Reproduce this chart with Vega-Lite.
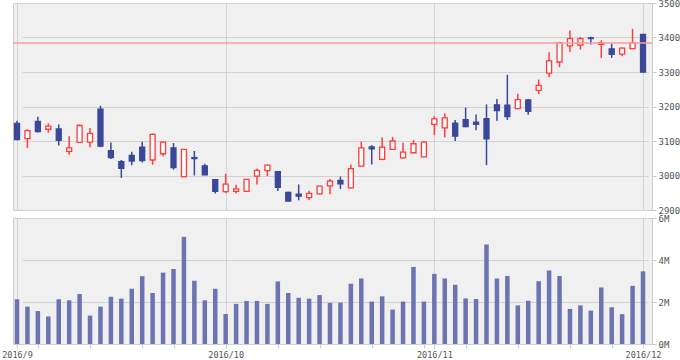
{
  "$schema": "https://vega.github.io/schema/vega-lite/v6.json",
  "padding": {"left": 1, "top": -2, "right": 0, "bottom": 0},
  "background": "white",
  "spacing": 8,
  "bounds": "flush",
  "config": {
    "view": {"fill": "#f0f0f0", "stroke": "#cdcdcd", "strokeWidth": 1},
    "axis": {"labelFont": "DejaVu Sans Mono", "labelFontSize": 9, "labelColor": "#555555", "gridColor": "#d2d2d2", "tickColor": "#c8c8c8", "domain": false, "title": null, "tickSize": 4, "labelPadding": 2, "labelOverlap": false},
    "axisY": {"labelOverlap": false}
  },
  "data": {"values": [
    {"d": "2016-09-01", "o": 3151, "h": 3159, "l": 3102, "c": 3104, "v": 2130000},
    {"d": "2016-09-02", "o": 3107, "h": 3134, "l": 3080, "c": 3130, "v": 1780000},
    {"d": "2016-09-05", "o": 3157, "h": 3170, "l": 3125, "c": 3127, "v": 1570000},
    {"d": "2016-09-06", "o": 3134, "h": 3151, "l": 3124, "c": 3143, "v": 1310000},
    {"d": "2016-09-07", "o": 3135, "h": 3148, "l": 3087, "c": 3102, "v": 2130000},
    {"d": "2016-09-08", "o": 3070, "h": 3114, "l": 3060, "c": 3080, "v": 2080000},
    {"d": "2016-09-09", "o": 3096, "h": 3148, "l": 3094, "c": 3145, "v": 2380000},
    {"d": "2016-09-12", "o": 3097, "h": 3138, "l": 3082, "c": 3122, "v": 1350000},
    {"d": "2016-09-13", "o": 3192, "h": 3202, "l": 3082, "c": 3085, "v": 1780000},
    {"d": "2016-09-14", "o": 3072, "h": 3096, "l": 3048, "c": 3052, "v": 2250000},
    {"d": "2016-09-15", "o": 3040, "h": 3045, "l": 2993, "c": 3021, "v": 2160000},
    {"d": "2016-09-16", "o": 3058, "h": 3069, "l": 3030, "c": 3042, "v": 2630000},
    {"d": "2016-09-20", "o": 3082, "h": 3098, "l": 3038, "c": 3043, "v": 3230000},
    {"d": "2016-09-21", "o": 3045, "h": 3122, "l": 3031, "c": 3119, "v": 2430000},
    {"d": "2016-09-23", "o": 3063, "h": 3100, "l": 3056, "c": 3097, "v": 3400000},
    {"d": "2016-09-26", "o": 3080, "h": 3094, "l": 3017, "c": 3023, "v": 3570000},
    {"d": "2016-09-27", "o": 2997, "h": 3077, "l": 2995, "c": 3076, "v": 5100000},
    {"d": "2016-09-28", "o": 3052, "h": 3071, "l": 3000, "c": 3049, "v": 3010000},
    {"d": "2016-09-29", "o": 3028, "h": 3034, "l": 3001, "c": 3002, "v": 2080000},
    {"d": "2016-09-30", "o": 2988, "h": 2989, "l": 2948, "c": 2954, "v": 2630000},
    {"d": "2016-10-03", "o": 2953, "h": 3005, "l": 2949, "c": 2975, "v": 1430000},
    {"d": "2016-10-04", "o": 2954, "h": 2973, "l": 2948, "c": 2961, "v": 1910000},
    {"d": "2016-10-05", "o": 2954, "h": 2990, "l": 2953, "c": 2989, "v": 2050000},
    {"d": "2016-10-06", "o": 2998, "h": 3020, "l": 2974, "c": 3015, "v": 2050000},
    {"d": "2016-10-07", "o": 3014, "h": 3032, "l": 2998, "c": 3030, "v": 1910000},
    {"d": "2016-10-11", "o": 3011, "h": 3013, "l": 2955, "c": 2966, "v": 2980000},
    {"d": "2016-10-12", "o": 2951, "h": 2953, "l": 2925, "c": 2926, "v": 2430000},
    {"d": "2016-10-13", "o": 2946, "h": 2974, "l": 2928, "c": 2940, "v": 2200000},
    {"d": "2016-10-14", "o": 2936, "h": 2956, "l": 2929, "c": 2948, "v": 2160000},
    {"d": "2016-10-17", "o": 2947, "h": 2970, "l": 2946, "c": 2969, "v": 2330000},
    {"d": "2016-10-18", "o": 2970, "h": 2990, "l": 2946, "c": 2984, "v": 1960000},
    {"d": "2016-10-19", "o": 2986, "h": 2997, "l": 2961, "c": 2976, "v": 1970000},
    {"d": "2016-10-20", "o": 2964, "h": 3032, "l": 2962, "c": 3020, "v": 2870000},
    {"d": "2016-10-21", "o": 3027, "h": 3098, "l": 3026, "c": 3080, "v": 3120000},
    {"d": "2016-10-24", "o": 3083, "h": 3088, "l": 3032, "c": 3077, "v": 2020000},
    {"d": "2016-10-25", "o": 3047, "h": 3110, "l": 3044, "c": 3082, "v": 2270000},
    {"d": "2016-10-26", "o": 3076, "h": 3112, "l": 3075, "c": 3100, "v": 1640000},
    {"d": "2016-10-27", "o": 3051, "h": 3095, "l": 3050, "c": 3068, "v": 2020000},
    {"d": "2016-10-28", "o": 3066, "h": 3103, "l": 3065, "c": 3092, "v": 3670000},
    {"d": "2016-10-31", "o": 3054, "h": 3099, "l": 3053, "c": 3097, "v": 2020000},
    {"d": "2016-11-01", "o": 3148, "h": 3172, "l": 3117, "c": 3164, "v": 3340000},
    {"d": "2016-11-02", "o": 3138, "h": 3180, "l": 3111, "c": 3167, "v": 3120000},
    {"d": "2016-11-04", "o": 3152, "h": 3161, "l": 3100, "c": 3114, "v": 2820000},
    {"d": "2016-11-07", "o": 3162, "h": 3197, "l": 3140, "c": 3142, "v": 2170000},
    {"d": "2016-11-08", "o": 3155, "h": 3177, "l": 3131, "c": 3148, "v": 2140000},
    {"d": "2016-11-09", "o": 3165, "h": 3206, "l": 3030, "c": 3106, "v": 4740000},
    {"d": "2016-11-10", "o": 3205, "h": 3222, "l": 3159, "c": 3188, "v": 3120000},
    {"d": "2016-11-11", "o": 3204, "h": 3292, "l": 3161, "c": 3171, "v": 3240000},
    {"d": "2016-11-14", "o": 3194, "h": 3237, "l": 3193, "c": 3220, "v": 1840000},
    {"d": "2016-11-15", "o": 3219, "h": 3221, "l": 3176, "c": 3186, "v": 2060000},
    {"d": "2016-11-16", "o": 3247, "h": 3278, "l": 3236, "c": 3261, "v": 2990000},
    {"d": "2016-11-17", "o": 3297, "h": 3357, "l": 3285, "c": 3332, "v": 3500000},
    {"d": "2016-11-18", "o": 3329, "h": 3387, "l": 3314, "c": 3385, "v": 3240000},
    {"d": "2016-11-21", "o": 3376, "h": 3420, "l": 3358, "c": 3397, "v": 1670000},
    {"d": "2016-11-22", "o": 3378, "h": 3402, "l": 3365, "c": 3397, "v": 1840000},
    {"d": "2016-11-24", "o": 3399, "h": 3402, "l": 3380, "c": 3397, "v": 1590000},
    {"d": "2016-11-25", "o": 3380, "h": 3392, "l": 3341, "c": 3384, "v": 2690000},
    {"d": "2016-11-28", "o": 3367, "h": 3382, "l": 3341, "c": 3351, "v": 1750000},
    {"d": "2016-11-29", "o": 3352, "h": 3371, "l": 3346, "c": 3369, "v": 1420000},
    {"d": "2016-11-30", "o": 3368, "h": 3425, "l": 3367, "c": 3384, "v": 2770000},
    {"d": "2016-12-01", "o": 3409, "h": 3410, "l": 3299, "c": 3300, "v": 3460000}
  ]},
  "vconcat": [
    {
      "width": 639,
      "height": 207,
      "layer": [
        {
          "mark": {"type": "rule", "strokeWidth": 1.5},
          "encoding": {
            "x": {"field": "d", "type": "ordinal", "scale": {"type": "point", "range": [4, 630], "padding": 0}, "axis": {"labels": false, "ticks": false, "grid": true, "values": ["2016-09-01", "2016-10-03", "2016-11-01", "2016-12-01"], "minExtent": 0, "maxExtent": 0}},
            "y": {"field": "l", "type": "quantitative", "scale": {"domain": [2900, 3500], "nice": false, "zero": false}, "axis": {"orient": "right", "values": [2900, 3000, 3100, 3200, 3300, 3400, 3500], "format": "d", "grid": true, "labelOverlap": false}},
            "y2": {"field": "h"},
            "color": {"condition": {"test": "datum.c > datum.o", "value": "#ff3b3b"}, "value": "#3b4899"}
          }
        },
        {
          "mark": {"type": "bar", "size": 5, "strokeWidth": 1.3},
          "encoding": {
            "x": {"field": "d", "type": "ordinal", "scale": {"type": "point", "range": [4, 630], "padding": 0}, "axis": {"labels": false, "ticks": false, "grid": true, "values": ["2016-09-01", "2016-10-03", "2016-11-01", "2016-12-01"], "minExtent": 0, "maxExtent": 0}},
            "y": {"field": "o", "type": "quantitative", "axis": {"orient": "right", "values": [2900, 3000, 3100, 3200, 3300, 3400, 3500], "format": "d", "grid": true, "labelOverlap": false}},
            "y2": {"field": "c"},
            "fill": {"condition": {"test": "datum.c > datum.o", "value": "#ffffff"}, "value": "#3b4899"},
            "stroke": {"condition": {"test": "datum.c > datum.o", "value": "#ff3b3b"}, "value": "#3b4899"}
          }
        },
        {
          "data": {"values": [{"ref": 3384}]},
          "mark": {"type": "rule", "color": "#ff9c9c", "strokeWidth": 1.5},
          "encoding": {
            "y": {"field": "ref", "type": "quantitative", "axis": {"orient": "right", "values": [2900, 3000, 3100, 3200, 3300, 3400, 3500], "format": "d", "grid": true, "labelOverlap": false}}
          }
        }
      ]
    },
    {
      "width": 639,
      "height": 126,
      "mark": {"type": "bar", "size": 4.5, "color": "#6b73b1"},
      "encoding": {
        "x": {"field": "d", "type": "ordinal", "scale": {"type": "point", "range": [4, 630], "padding": 0},
          "axis": {
            "values": ["2016-09-01", "2016-09-05", "2016-09-12", "2016-09-20", "2016-09-26", "2016-10-03", "2016-10-11", "2016-10-17", "2016-10-24", "2016-10-31", "2016-11-01", "2016-11-07", "2016-11-14", "2016-11-21", "2016-11-28", "2016-12-01"],
            "labelExpr": "datum.value == '2016-09-01' ? '2016/9' : datum.value == '2016-10-03' ? '2016/10' : datum.value == '2016-11-01' ? '2016/11' : datum.value == '2016-12-01' ? '2016/12' : ''",
            "labelAngle": 0,
            "labelOverlap": false,
            "labelFontSize": 8.5,
            "grid": true,
            "gridOpacity": {"condition": {"test": "indexof(['2016-09-01','2016-10-03','2016-11-01','2016-12-01'], datum.value) >= 0", "value": 1}, "value": 0}
          }
        },
        "y": {"field": "v", "type": "quantitative", "scale": {"domain": [0, 6000000], "nice": false}, "axis": {"orient": "right", "values": [0, 2000000, 4000000, 6000000], "labelExpr": "(datum.value / 1000000) + 'M'", "grid": true, "labelOverlap": false}}
      }
    }
  ]
}
